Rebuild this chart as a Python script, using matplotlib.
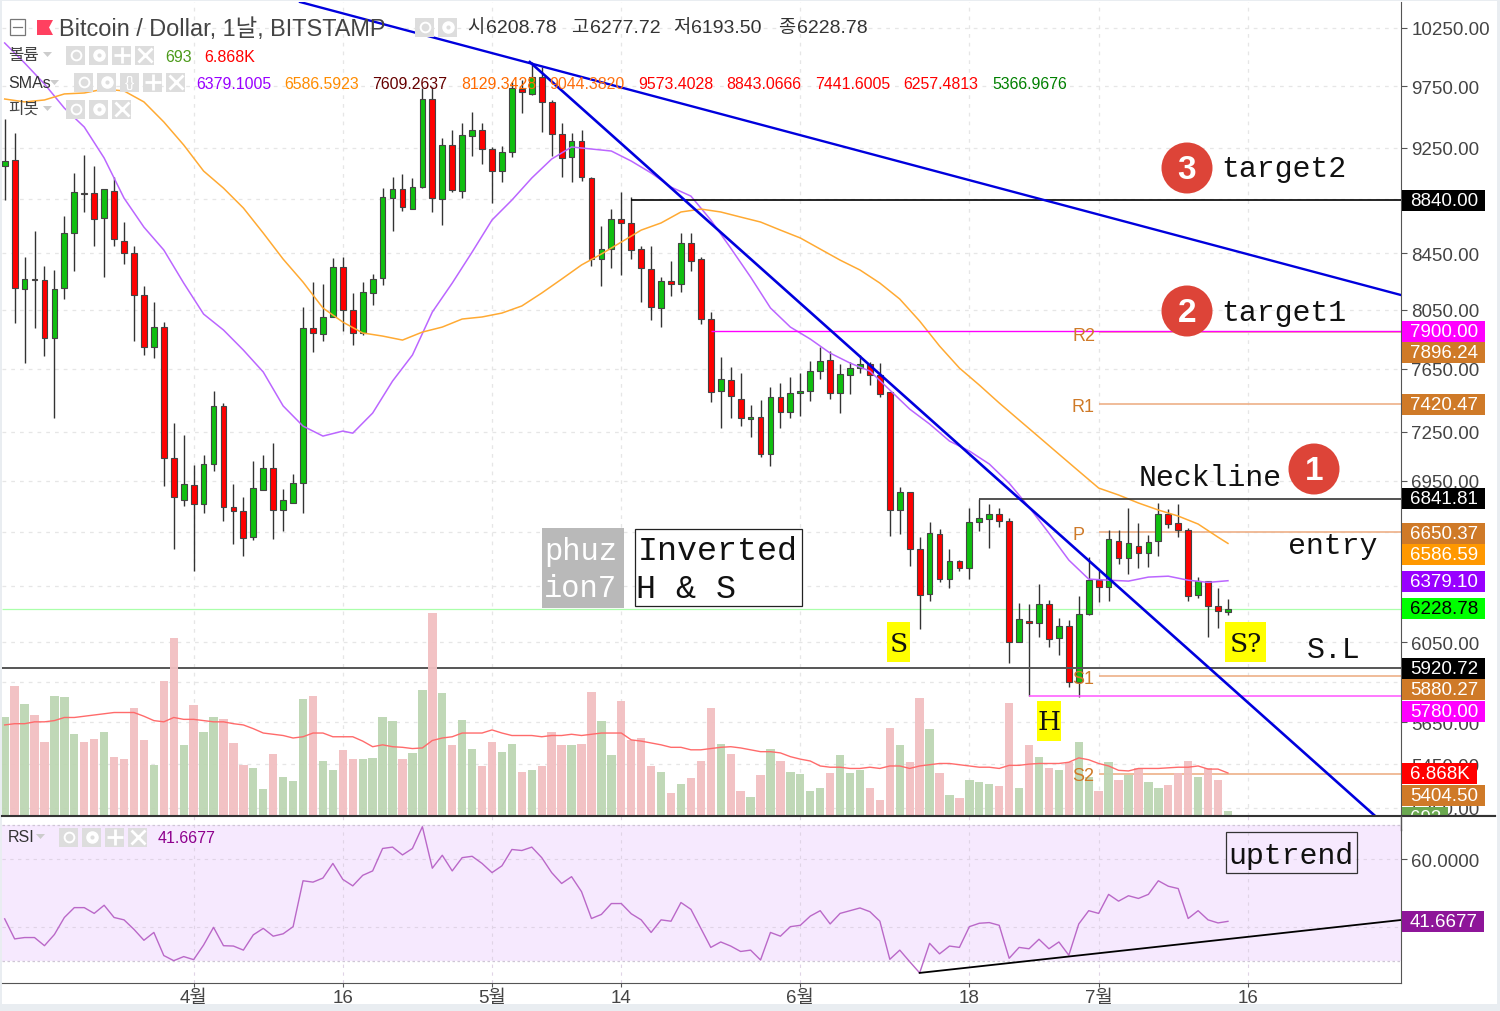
import matplotlib
matplotlib.use('Agg')
import numpy as np
import matplotlib.pyplot as plt
from matplotlib.patches import Rectangle, Circle, Polygon
from matplotlib.ticker import NullLocator, NullFormatter

plt.rcParams['font.family'] = ['Liberation Sans', 'Noto Sans CJK KR']

# daily candles, 13 March to 14 July
opens = [9105, 9152, 8193, 8263, 8256, 7856, 8200, 8596, 8896, 8896,
         8708, 8911, 8538, 8450, 8151, 7795, 7930, 7087, 6836, 6925,
         6813, 7051, 7411, 6795, 6772, 6622, 6895, 7026, 6778, 6819,
         6936, 7924, 7883, 7999, 8349, 8047, 7890, 8165, 8270, 8858,
         8927, 8775, 8942, 9644, 8851, 9271, 8911, 9343, 9391, 9239,
         9066, 9215, 9727, 9686, 9827, 9620, 9359, 9176, 9303, 9012,
         8406, 8479, 8700, 8671, 8479, 8335, 8061, 8249, 8228, 8523,
         8406, 7985, 7507, 7578, 7455, 7328, 7341, 7111, 7468, 7372,
         7494, 7507, 7636, 7709, 7494, 7610, 7656, 7683, 7610, 7500,
         6778, 6883, 6555, 6306, 6639, 6388, 6487, 6448, 6709, 6726,
         6755, 6714, 6052, 6162, 6151, 6252, 6072, 6135, 5848, 6199,
         6382, 6344, 6599, 6504, 6571, 6532, 6599, 6755, 6703, 6662,
         6301, 6377, 6241, 6208.78]
highs = [9480, 9367, 8421, 8611, 8356, 8328, 8723, 9051, 9191, 9105,
         8927, 9019, 8678, 8501, 8214, 8102, 7964, 7303, 7228, 7044,
         7105, 7507, 7430, 6930, 6854, 7069, 7105, 7179, 6901, 6990,
         8068, 8242, 8228, 8413, 8421, 8165, 8242, 8299, 8934, 9019,
         9043, 9012, 9736, 9744, 9327, 9391, 9448, 9537, 9448, 9255,
         9263, 9785, 9802, 9955, 9912, 9636, 9448, 9367, 9391, 9019,
         8648, 8775, 8904, 8866, 8501, 8501, 8278, 8392, 8596, 8596,
         8421, 8033, 7729, 7663, 7623, 7417, 7449, 7532, 7558, 7597,
         7623, 7702, 7795, 7768, 7683, 7696, 7742, 7696, 7689, 7500,
         6913, 6883, 6622, 6709, 6668, 6555, 6493, 6790, 6842, 6813,
         6790, 6732, 6258, 6252, 6360, 6274, 6178, 6167, 6296, 6510,
         6437, 6662, 6662, 6790, 6703, 6634, 6819, 6784, 6813, 6673,
         6399, 6377, 6339, 6277.72]
lows = [8843, 7957, 7689, 7924, 7735, 7335, 8123, 8321, 8753, 8501,
        8278, 8501, 8371, 7835, 7742, 7722, 6919, 6555, 6801, 6431,
        6761, 7008, 6714, 6583, 6515, 6605, 6895, 6611, 6656, 6819,
        6761, 7762, 7835, 7999, 7903, 7809, 7876, 8082, 8221, 8611,
        8760, 8775, 8934, 8753, 8655, 8904, 8858, 9184, 9121, 8820,
        8980, 9176, 9529, 9678, 9375, 9184, 9019, 8980, 8988, 8356,
        8214, 8342, 8292, 8406, 8102, 7978, 7930, 8144, 8172, 8321,
        7951, 7436, 7272, 7335, 7284, 7216, 7093, 7038, 7272, 7335,
        7347, 7443, 7584, 7455, 7366, 7487, 7623, 7545, 7468, 6628,
        6639, 6459, 6119, 6269, 6371, 6339, 6431, 6388, 6656, 6560,
        6679, 5944, 6052, 5778, 6078, 6026, 5985, 5823, 5773, 6194,
        6263, 6269, 6471, 6415, 6448, 6454, 6515, 6673, 6622, 6269,
        6285, 6078, 6124, 6193.50]
closes = [9144, 8200, 8263, 8256, 7856, 8193, 8596, 8904, 8889, 8700,
          8927, 8552, 8450, 8151, 7795, 7930, 7087, 6854, 6930, 6813,
          7051, 7411, 6795, 6772, 6616, 6907, 7026, 6778, 6836, 6936,
          7924, 7890, 7999, 8349, 8047, 7890, 8172, 8263, 8866, 8927,
          8790, 8942, 9644, 8858, 9271, 8919, 9351, 9391, 9239, 9066,
          9215, 9736, 9702, 9827, 9620, 9359, 9168, 9303, 9019, 8406,
          8479, 8700, 8671, 8472, 8342, 8068, 8249, 8228, 8523, 8392,
          7985, 7500, 7584, 7475, 7335, 7341, 7111, 7468, 7372, 7494,
          7507, 7636, 7702, 7494, 7617, 7656, 7683, 7610, 7487, 6778,
          6883, 6555, 6301, 6645, 6388, 6487, 6448, 6709, 6732, 6755,
          6714, 6052, 6172, 6151, 6252, 6067, 6135, 5848, 6199, 6382,
          6344, 6611, 6504, 6588, 6532, 6594, 6755, 6697, 6662, 6296,
          6377, 6241, 6215, 6228.78]

# volume in thousands
volumes = [15.8, 20.9, 18.0, 16.2, 11.9, 19.3, 19.1, 13.2, 11.9, 12.3,
           13.5, 9.5, 9.1, 17.3, 12.1, 8.2, 21.7, 28.6, 11.3, 17.8,
           13.5, 15.8, 15.6, 11.7, 8.2, 7.6, 4.3, 9.9, 6.3, 5.6,
           18.7, 19.3, 8.8, 7.3, 10.6, 9.1, 9.1, 9.3, 15.8, 15.2,
           9.1, 10.1, 20.2, 32.6, 19.7, 11.3, 15.4, 10.8, 8.0, 11.9,
           10.3, 11.5, 7.1, 7.3, 8.0, 13.5, 11.3, 11.3, 11.5, 19.9,
           15.2, 9.8, 18.4, 12.1, 12.5, 8.0, 7.1, 3.6, 5.1, 6.1,
           8.8, 17.3, 11.5, 9.9, 3.9, 3.0, 6.5, 10.8, 8.8, 7.1,
           6.7, 3.9, 4.5, 6.9, 9.8, 6.9, 7.3, 4.5, 2.6, 14.1,
           11.3, 8.6, 18.9, 13.9, 6.9, 3.4, 2.8, 5.8, 5.4, 5.1,
           4.7, 18.2, 4.5, 11.3, 9.5, 7.6, 7.3, 8.6, 11.9, 6.3,
           3.9, 8.6, 5.8, 6.5, 7.6, 5.4, 4.5, 4.9, 6.9, 8.8,
           6.3, 7.6, 5.8, 0.693]
volume_ma = [14.6, 14.8, 14.8, 15.1, 15.1, 15.3, 15.8, 15.8, 16.0, 16.2,
             16.4, 16.6, 16.6, 16.6, 16.0, 15.3, 15.1, 15.8, 15.5, 15.5,
             15.3, 15.1, 15.1, 14.8, 14.6, 14.0, 13.3, 13.1, 12.9, 12.5,
             12.7, 13.3, 13.3, 12.7, 12.7, 12.7, 12.0, 11.1, 11.4, 11.1,
             11.0, 10.8, 10.9, 12.1, 12.5, 12.7, 13.3, 13.3, 13.3, 13.8,
             13.3, 12.9, 12.9, 12.9, 12.7, 12.9, 12.9, 13.1, 12.9, 13.1,
             13.3, 13.3, 13.3, 12.2, 12.0, 11.7, 11.4, 11.0, 11.0, 10.6,
             10.6, 10.8, 11.0, 11.1, 10.9, 10.6, 10.3, 10.3, 10.1, 9.5,
             9.1, 8.8, 8.0, 7.8, 7.8, 7.6, 7.6, 7.8, 7.6, 8.0,
             8.0, 7.6, 8.0, 8.2, 8.4, 8.4, 8.2, 8.0, 7.8, 7.8,
             7.6, 8.1, 8.1, 8.3, 8.4, 8.4, 8.4, 8.6, 9.3, 9.0,
             8.4, 8.0, 7.3, 7.2, 7.6, 7.6, 7.6, 7.7, 7.8, 7.8,
             8.0, 7.5, 7.5, 6.868]

# moving averages read at these candles
sma_short_days = [0, 2, 4, 6, 8, 10, 12, 14, 16, 18, 20, 22, 24, 26, 28, 30, 32, 34,
                  35, 37, 39, 41, 43, 45, 47, 49, 51, 53, 55, 57, 59, 61, 63, 65, 67, 69,
                  71, 73, 75, 77, 79, 81, 83, 85, 87, 89, 91, 93, 95, 97, 99, 101, 103,
                  105, 107, 109, 111, 113, 115, 117, 119, 121, 123]
sma_short = [10119, 9947, 9769, 9569, 9415, 9168, 8858, 8640, 8472, 8235, 8019, 7910,
             7775, 7630, 7411, 7284, 7222, 7253, 7240, 7366, 7571, 7742, 8033, 8235,
             8457, 8693, 8843, 9012, 9160, 9255, 9239, 9223, 9144, 9051, 8942, 8873,
             8693, 8486, 8278, 8061, 7930, 7849, 7755, 7689, 7636, 7513, 7391, 7297,
             7191, 7130, 7051, 6936, 6795, 6645, 6493, 6388, 6382, 6377, 6399, 6404,
             6382, 6370, 6379.1]
sma_long_days = list(range(0, 123, 2)) + [123]
sma_long = [9644, 9620, 9636, 9686, 9694, 9727, 9711, 9620, 9456, 9271, 9066, 8934,
            8783, 8596, 8406, 8242, 8061, 7964, 7890, 7869, 7842, 7896, 7930, 7985,
            7999, 8026, 8075, 8165, 8263, 8364, 8443, 8530, 8618, 8671, 8753, 8775,
            8753, 8715, 8678, 8618, 8560, 8479, 8399, 8328, 8235, 8123, 7971, 7802,
            7656, 7545, 7430, 7322, 7216, 7111, 7008, 6907, 6866, 6819, 6778, 6743,
            6697, 6622, 6586.59]

rsi = [42.4, 36.5, 36.9, 36.9, 34.5, 37.8, 42.8, 45.7, 45.7, 44.0,
       46.4, 42.8, 42.1, 39.3, 36.1, 38.4, 31.6, 30.1, 31.3, 30.4,
       34.7, 39.9, 34.5, 34.4, 33.2, 37.7, 39.6, 37.3, 38.0, 40.1,
       53.6, 53.2, 54.4, 58.7, 54.0, 52.1, 55.2, 56.5, 63.1, 63.5,
       61.2, 63.1, 69.5, 57.3, 61.1, 56.5, 60.4, 60.8, 58.7, 56.0,
       58.0, 62.8, 62.5, 63.5, 60.4, 56.0, 52.8, 54.8, 50.4, 42.5,
       43.7, 46.9, 46.9, 43.9, 42.1, 38.4, 42.1, 41.7, 47.2, 45.2,
       39.6, 34.0, 35.6, 34.4, 32.8, 33.2, 30.3, 38.4, 37.3, 40.1,
       40.5, 43.2, 44.8, 40.9, 44.0, 44.8, 45.6, 44.5, 41.7, 30.5,
       33.2, 29.8, 26.5, 35.2, 32.1, 34.4, 34.0, 40.1, 41.1, 41.3,
       40.5, 30.8, 34.0, 33.6, 36.4, 33.6, 35.6, 31.7, 40.9, 44.8,
       44.0, 49.6, 47.6, 49.2, 48.4, 49.6, 53.6, 52.0, 51.3, 42.5,
       44.8, 42.1, 41.2, 41.6677]

# axis ticks
price_ticks = [10250, 9750, 9250, 8850, 8450, 8050, 7650, 7250, 6950, 6650, 6350,
               6050, 5850, 5650, 5450, 5250]
price_tick_labels = ['10250.00', '9750.00', '9250.00', '', '8450.00', '8050.00', '7650.00',
                     '7250.00', '6950.00', '', '', '6050.00', '', '5650.00', '5450.00', '5250.00']
date_ticks = [19, 34, 49, 62, 80, 97, 110, 125]
date_labels = ['4월', '16', '5월', '14', '6월', '18', '7월', '16']

# drawn levels and trend lines: start day, price
pivot_levels = [7896.24, 7420.47, 6650.37, 5880.27, 5404.50]
trend_upper_days = [29.7, 140.4]
trend_upper_prices = [10481, 8151]
trend_steep_days = [52.8, 137.8]
trend_steep_prices = [9955, 5213]
rsi_trend_days = [92, 140.4]
rsi_trend_vals = [26.5, 42.06]


def rect(x0, y0, x1, y1):
    return [x0 / 1500, 1 - y1 / 1012, (x1 - x0) / 1500, (y1 - y0) / 1012]


fig = plt.figure(figsize=(15, 10.12), dpi=100, facecolor='#e9edf1')
fig.add_artist(Rectangle((2 / 1500, 1 - 1005 / 1012), 1495 / 1500, 1003 / 1012,
                         transform=fig.transFigure, fc='white', ec='none', zorder=-1))

xlim = (-0.27, 140.4)
days = np.arange(len(closes))
opens_a, highs_a, lows_a, closes_a = map(np.array, (opens, highs, lows, closes))

# price pane
ax = fig.add_axes(rect(2, 3, 1401, 817), facecolor='none', zorder=2)
ax.set_yscale('log')
ax.set_xlim(*xlim)
ax.set_ylim(5213, 10481)
ax.set_yticks(price_ticks)
ax.set_yticklabels(price_tick_labels, fontsize=13.5, color='#444444')
ax.yaxis.set_minor_locator(NullLocator())
ax.yaxis.set_minor_formatter(NullFormatter())
ax.yaxis.tick_right()
ax.tick_params(axis='y', length=4.5, width=0.8, color='#555555', pad=3)
ax.set_xticks(date_ticks)
ax.tick_params(axis='x', length=0, labelbottom=False)
ax.grid(True, ls=(0, (3, 4)), lw=0.9, color='#e6e6e6')
ax.set_axisbelow(True)
for s in ['top', 'left', 'bottom']:
    ax.spines[s].set_visible(False)
ax.spines['right'].set_color('#555555')

up = closes_a >= opens_a
ax.vlines(days, lows_a, highs_a, color='#333333', lw=1.0, zorder=3)
ax.bar(days[up], (closes_a - opens_a)[up], bottom=opens_a[up], width=0.58,
       color='#10bf10', edgecolor='#444444', lw=0.8, zorder=4)
ax.bar(days[~up], (opens_a - closes_a)[~up], bottom=closes_a[~up], width=0.58,
       color='#ff0000', edgecolor='#444444', lw=0.8, zorder=4)

ax.plot(sma_short_days, sma_short, color='#bb66ff', lw=1.1, zorder=5)
ax.plot(sma_long_days, sma_long, color='#ffaa33', lw=1.1, zorder=5)

# pivot lines start at 1 July
for lvl in pivot_levels:
    ax.hlines(lvl, 110, xlim[1], color='#eeb088', lw=1.2, zorder=2)
ax.hlines(8840, 63, xlim[1], color='black', lw=1.2, zorder=5)
ax.hlines(7900, 71, xlim[1], color='#ff00ff', lw=1.0, zorder=5)
ax.hlines(6841.81, 98, xlim[1], color='#333333', lw=1.2, zorder=5)
ax.hlines(6228.78, xlim[0], xlim[1], color='#aaffaa', lw=0.9, zorder=2)
ax.hlines(5920.72, xlim[0], xlim[1], color='#555555', lw=1.4, zorder=5)
ax.hlines(5780, 103, xlim[1], color='#ff55ff', lw=1.1, zorder=5)
ax.plot(trend_upper_days, trend_upper_prices, color='#0000dd', lw=1.7, zorder=6)
ax.plot(trend_steep_days, trend_steep_prices, color='#0000dd', lw=1.9, zorder=6)

# volume overlay, same pane
ax_vol = fig.add_axes(rect(2, 3, 1401, 816.7), facecolor='none', zorder=3)
ax_vol.set_xlim(*xlim)
ax_vol.set_ylim(0, 130.9)
ax_vol.axis('off')
vol_colors = ['#bdd6b3' if u else '#f2bfc1' for u in up]
ax_vol.bar(days, volumes, width=0.84, color=vol_colors, alpha=0.95, lw=0)
ax_vol.plot(days, volume_ma, color='#ff6b6b', lw=1.0)

# RSI pane
ax_rsi = fig.add_axes(rect(2, 817, 1401, 984), facecolor='white', zorder=2)
ax_rsi.set_xlim(*xlim)
ax_rsi.set_ylim(23.53, 72.65)
ax_rsi.axhspan(30, 70, color='#f6e9fe', lw=0, zorder=0)
ax_rsi.set_yticks([60, 40])
ax_rsi.set_yticklabels(['60.0000', ''], fontsize=13.5, color='#444444')
ax_rsi.yaxis.tick_right()
ax_rsi.tick_params(axis='y', length=4.5, width=0.8, color='#555555', pad=3)
ax_rsi.set_xticks(date_ticks)
ax_rsi.set_xticklabels(date_labels, fontsize=13.5, color='#444444')
ax_rsi.tick_params(axis='x', length=3, width=0.8, color='#555555', pad=1)
ax_rsi.grid(True, ls=(0, (3, 4)), lw=0.8, color='#e0d4e6')
for lvl in [70, 30]:
    ax_rsi.axhline(lvl, ls=(0, (2, 2)), lw=0.9, color='#cfc6d6', zorder=1)
ax_rsi.set_axisbelow(True)
for s in ['top', 'left']:
    ax_rsi.spines[s].set_visible(False)
ax_rsi.spines['right'].set_color('#555555')
ax_rsi.spines['bottom'].set_color('#555555')
ax_rsi.plot(days, rsi, color='#ba68c8', lw=1.0, zorder=3)
ax_rsi.plot(rsi_trend_days, rsi_trend_vals, color='black', lw=1.3, zorder=4)

# everything else is placed in image pixels on a clear overlay
ov = fig.add_axes([0, 0, 1, 1], facecolor='none', zorder=10)
ov.set_xlim(0, 1500)
ov.set_ylim(1011, -1)
ov.axis('off')
ov.plot([2, 1495], [816, 816], color='#333333', lw=1.5)

mono = 'Liberation Mono'


def price_box(y, txt, bg, fg='white', x1=1485):
    ov.add_patch(Rectangle((1402, y - 10.5), x1 - 1402, 21, fc=bg, ec='none', zorder=3))
    ov.text(1410, y + 0.5, txt, color=fg, fontsize=13.5, va='center', ha='left', zorder=4)


price_box(200, '8840.00', 'black')
price_box(331, '7900.00', '#ff00ff')
price_box(352, '7896.24', '#cf7a28')
price_box(404, '7420.47', '#cf7a28')
price_box(498.5, '6841.81', 'black')
price_box(533, '6650.37', '#cf7a28')
price_box(554, '6586.59', '#ff9800')
price_box(581, '6379.10', '#9900ff')
price_box(608.5, '6228.78', '#00ff00', fg='black')
price_box(668, '5920.72', 'black')
price_box(689, '5880.27', '#cf7a28')
price_box(711, '5780.00', '#ff00ff')
price_box(773, '6.868K', '#ff0000', x1=1477)
price_box(795, '5404.50', '#cf7a28')
price_box(817, '693', '#6aa84f', x1=1448)
ov.add_patch(Rectangle((1402, 816.5), 94, 12, fc='white', ec='none', zorder=5))
ov.plot([1402, 1495], [816, 816], color='#333333', lw=1.5, zorder=6)
ov.plot([1401, 1401], [816, 830], color='#555555', lw=1.0, zorder=6)
price_box(921, '41.6677', '#8e1599', x1=1484)

# pivot names
for txt, x, y in [('R2', 1084, 335), ('R1', 1083, 406), ('P', 1078, 534),
                  ('S1', 1083, 679), ('S2', 1083, 776)]:
    ov.text(x, y, txt, color='#cf7a28', fontsize=13, ha='center', va='center')

# hand drawn labels
for txt, x, y in [('target2', 1221, 168), ('target1', 1221, 312), ('Neckline', 1139, 477),
                  ('entry', 1288, 545), ('S.L', 1307, 649)]:
    ov.text(x, y, txt, family=mono, fontsize=21.5, color='#111111', ha='left', va='center')
for x, y, n in [(1187, 168, '3'), (1187, 311, '2'), (1314, 469, '1')]:
    ov.add_patch(Circle((x, y), 25.5, fc='#dd4438', ec='none'))
    ov.text(x, y + 1, n, color='white', fontsize=24, fontweight='bold', ha='center', va='center')

ov.add_patch(Rectangle((542, 528), 82, 80, fc='#b9b9b9', ec='none'))
ov.text(544, 551, 'phuz', family=mono, fontsize=22, color='white', va='center')
ov.text(544, 588, 'ion7', family=mono, fontsize=22, color='white', va='center')
ov.add_patch(Rectangle((635, 529), 167, 77, fc='white', ec='#222222', lw=0.9))
ov.text(638, 551, 'Inverted', family=mono, fontsize=24, color='#111111', va='center')
ov.text(636, 588, 'H & S', family=mono, fontsize=24, color='#111111', va='center')

for x0, y0, x1, y1, txt in [(887, 622, 910, 662, 'S'), (1225, 622, 1266, 662, 'S?'),
                            (1037, 701, 1061, 741, 'H')]:
    ov.add_patch(Rectangle((x0, y0), x1 - x0, y1 - y0, fc='#ffff00', ec='none'))
    ov.text((x0 + x1) / 2, (y0 + y1) / 2 + 1, txt, family='DejaVu Serif', fontsize=19, color='#111111',
            ha='center', va='center')

ov.add_patch(Rectangle((1226, 832), 131, 41, fc='none', ec='#333333', lw=0.9))
ov.text(1291, 855, 'uptrend', family=mono, fontsize=21.5, color='#111111', ha='center', va='center')

# chart header
ov.add_patch(Rectangle((10, 19), 15, 16, fc='white', ec='#777777', lw=0.9))
ov.plot([13, 22], [27, 27], color='#777777', lw=0.9)
ov.add_patch(Polygon([(37, 20), (53, 20), (49, 27.5), (53, 35), (37, 35)], fc='#ff4060', ec='none'))
ov.text(59, 28, 'Bitcoin / Dollar, 1날, BITSTAMP', fontsize=16.9, color='#444444', va='center')
for txt, x in [('시', 467), ('고', 571), ('저', 673), ('종', 778)]:
    ov.text(x, 27, txt, fontsize=13.5, color='#333333', va='center')
for txt, x in [('6208.78', 486), ('6277.72', 590), ('6193.50', 691), ('6228.78', 797)]:
    ov.text(x, 27, txt, fontsize=14, color='#333333', va='center')


def icons(x, y, kinds):
    for k in kinds:
        ov.add_patch(Rectangle((x, y - 9.5), 19, 19, fc='#dddddd', ec='none'))
        if k == 'eye':
            ov.plot(x + 9.5, y, 'o', ms=7, mfc='none', mec='white', mew=1.4)
        elif k == 'gear':
            ov.plot(x + 9.5, y, 'o', ms=8, mfc='white', mec='white')
            ov.plot(x + 9.5, y, 'o', ms=3, mfc='#dddddd', mec='none')
        elif k == 'code':
            ov.text(x + 9.5, y, '{}', color='white', fontsize=11, ha='center', va='center')
        elif k == 'plus':
            ov.plot(x + 9.5, y, '+', ms=11, mew=2, color='white')
        elif k == 'x':
            ov.plot(x + 9.5, y, 'x', ms=10, mew=2, color='white')
        x += 23


def caret(x, y):
    ov.add_patch(Polygon([(x, y - 2), (x + 9, y - 2), (x + 4.5, y + 3)], fc='#cccccc', ec='none'))


icons(415, 27, ['eye', 'gear'])
ov.text(8, 54, '볼륨', fontsize=12, color='#444444', va='center')
caret(43, 54)
icons(66, 55, ['eye', 'gear', 'plus', 'x'])
ov.text(165, 56, '693', fontsize=11.5, color='#4c9a1a', va='center')
ov.text(204, 56, '6.868K', fontsize=11.5, color='#ff0000', va='center')
ov.text(8, 82, 'SMAs', fontsize=11.5, color='#333333', va='center')
caret(50, 82)
icons(74, 82, ['eye', 'gear', 'code', 'plus', 'x'])
ov.text(8, 108, '피봇', fontsize=12, color='#444444', va='center')
caret(43, 108)
icons(66, 109, ['eye', 'gear', 'x'])
for txt, x, c in [('6379.1005', 196, '#9900ff'), ('6586.5923', 284, '#ff8c00'),
                  ('7609.2637', 372, '#660000'), ('8129.3428', 461, '#ff6a00'),
                  ('9044.3820', 549, '#ff7010'), ('9573.4028', 638, '#ff0000'),
                  ('8843.0666', 726, '#ff0000'), ('7441.6005', 815, '#ff0000'),
                  ('6257.4813', 903, '#ff0000'), ('5366.9676', 992, '#008000')]:
    ov.text(x, 83, txt, fontsize=11.4, color=c, va='center')
ov.text(8, 837, 'RSI', fontsize=11.5, color='#333333', va='center')
caret(36, 836)
icons(59, 837, ['eye', 'gear', 'plus', 'x'])
ov.text(158, 838, '41.6677', fontsize=11.5, color='#8e008e', va='center')

fig.savefig('out.png', dpi=100)
